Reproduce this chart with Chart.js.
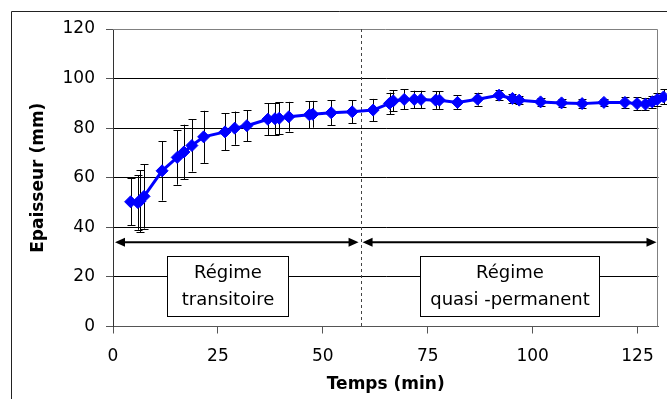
<!DOCTYPE html>
<html>
<head>
<meta charset="utf-8">
<script src="https://cdn.jsdelivr.net/npm/chart.js@4/dist/chart.umd.min.js"></script>
<style>
html,body{margin:0;padding:0;background:#fff;}
canvas{display:block;}
</style>
</head>
<body>
<canvas id="c" width="667" height="399"></canvas>
<script>
// ---- data ----
const times = [4.2, 5.9, 6.4, 7.4, 11.7, 15.3, 16.9, 18.8, 21.6, 26.7, 29.0, 31.9, 36.9, 38.6, 39.6, 41.9, 46.8, 47.6, 52.0, 57.0, 62.0, 65.9, 66.8, 69.4, 71.8, 73.4, 76.9, 77.8, 82.1, 86.9, 92.0, 95.2, 96.8, 101.9, 106.9, 111.8, 117.0, 122.0, 124.9, 126.9, 128.5, 129.7, 131.2];
const thickness = [50.3, 50.0, 50.5, 52.5, 62.8, 68.2, 70.4, 73.0, 76.5, 78.5, 80.0, 81.0, 83.6, 83.8, 84.0, 84.6, 85.4, 85.6, 86.2, 86.6, 87.3, 90.0, 91.0, 91.6, 91.6, 91.6, 91.3, 91.3, 90.4, 91.7, 93.3, 92.0, 91.3, 90.6, 90.2, 89.9, 90.4, 90.4, 89.9, 89.7, 90.6, 91.6, 92.6];
const errors = [9.4, 11.0, 12.5, 13.0, 12.0, 11.0, 11.0, 10.5, 10.5, 7.5, 6.7, 6.3, 6.4, 6.5, 6.5, 6.0, 5.4, 5.4, 5.0, 4.7, 4.5, 4.3, 4.2, 4.0, 3.5, 3.5, 3.5, 3.5, 2.8, 2.6, 2.0, 1.8, 1.5, 1.5, 1.5, 1.8, 1.5, 2.2, 2.5, 2.5, 2.5, 2.5, 3.0];
const xTicks = [0, 25, 50, 75, 100, 125];
const yTicks = [0, 20, 40, 60, 80, 100, 120];
const xTitle = 'Temps (min)';
const yTitle = 'Epaisseur (mm)';
const phaseBoundary = 59;        // dashed separator (min)
const arrowLevel = 34;           // arrows (mm)
const regimes = [
  {label: ['Régime', 'transitoire'], from: 0, to: 59, boxFrom: 12.8, boxTo: 41.7},
  {label: ['Régime', 'quasi -permanent'], from: 59, to: 130, boxFrom: 73.2, boxTo: 115.8}
];
const boxTop = 28.3, boxBottom = 4.4;

const FONT = '"DejaVu Sans", sans-serif';

const points = times.map((t, i) => ({x: t, y: thickness[i]}));

const decor = {
  id: 'decor',
  beforeDraw(chart) {
    const ctx = chart.ctx;
    ctx.save();
    ctx.fillStyle = '#fff';
    ctx.fillRect(0, 0, chart.width, chart.height);
    ctx.strokeStyle = '#222';
    ctx.lineWidth = 1;
    ctx.beginPath();
    ctx.moveTo(11.5, chart.height + 5);
    ctx.lineTo(11.5, 11.5);
    ctx.lineTo(chart.width + 5, 11.5);
    ctx.stroke();
    ctx.restore();
  },
  beforeDatasetsDraw(chart) {
    const {ctx, chartArea: a, scales: {x, y}} = chart;
    ctx.save();
    // plot area top/right border
    ctx.strokeStyle = '#808080';
    ctx.lineWidth = 1;
    ctx.beginPath();
    ctx.moveTo(a.left, Math.round(a.top) + 0.5);
    ctx.lineTo(Math.round(a.right) - 0.5, Math.round(a.top) + 0.5);
    ctx.lineTo(Math.round(a.right) - 0.5, a.bottom);
    ctx.stroke();
    // dashed separator
    const bx = Math.round(x.getPixelForValue(phaseBoundary)) + 0.5;
    ctx.strokeStyle = '#444';
    ctx.setLineDash([3, 3]);
    ctx.beginPath();
    ctx.moveTo(bx, a.top);
    ctx.lineTo(bx, a.bottom);
    ctx.stroke();
    ctx.setLineDash([]);
    // arrows and boxes
    const ay = y.getPixelForValue(arrowLevel);
    ctx.strokeStyle = '#000';
    regimes.forEach(r => {
      const x1 = x.getPixelForValue(r.from) + 2;
      const x2 = x.getPixelForValue(r.to) - 2;
      ctx.lineWidth = 2;
      ctx.beginPath();
      ctx.moveTo(x1 + 6, ay);
      ctx.lineTo(x2 - 6, ay);
      ctx.stroke();
      ctx.fillStyle = '#000';
      ctx.beginPath();
      ctx.moveTo(x1, ay); ctx.lineTo(x1 + 10, ay - 4.5); ctx.lineTo(x1 + 10, ay + 4.5); ctx.closePath();
      ctx.fill();
      ctx.beginPath();
      ctx.moveTo(x2, ay); ctx.lineTo(x2 - 10, ay - 4.5); ctx.lineTo(x2 - 10, ay + 4.5); ctx.closePath();
      ctx.fill();
      // box
      const l = Math.round(x.getPixelForValue(r.boxFrom)) + 0.5;
      const rr = Math.round(x.getPixelForValue(r.boxTo)) + 0.5;
      const t = Math.round(y.getPixelForValue(boxTop)) + 0.5;
      const b = Math.round(y.getPixelForValue(boxBottom)) + 0.5;
      ctx.fillStyle = '#fff';
      ctx.fillRect(l, t, rr - l, b - t);
      ctx.lineWidth = 1;
      ctx.strokeRect(l, t, rr - l, b - t);
      ctx.fillStyle = '#000';
      ctx.font = '18px ' + FONT;
      ctx.textAlign = 'center';
      ctx.textBaseline = 'middle';
      const cx = (l + rr) / 2, cy = (t + b) / 2;
      ctx.fillText(r.label[0], cx, cy - 13);
      ctx.fillText(r.label[1], cx, cy + 14);
    });
    // error bars
    ctx.strokeStyle = '#000';
    ctx.lineWidth = 1;
    times.forEach((t, i) => {
      const px = Math.round(x.getPixelForValue(t)) + 0.5;
      const top = y.getPixelForValue(thickness[i] + errors[i]);
      const bot = y.getPixelForValue(thickness[i] - errors[i]);
      ctx.beginPath();
      ctx.moveTo(px, top); ctx.lineTo(px, bot);
      ctx.moveTo(px - 4, Math.round(top) + 0.5); ctx.lineTo(px + 4, Math.round(top) + 0.5);
      ctx.moveTo(px - 4, Math.round(bot) + 0.5); ctx.lineTo(px + 4, Math.round(bot) + 0.5);
      ctx.stroke();
    });
    ctx.restore();
  }
};

new Chart(document.getElementById('c'), {
  type: 'scatter',
  data: {
    datasets: [{
      data: points,
      showLine: true,
      borderColor: '#0000FF',
      backgroundColor: '#0000FF',
      borderWidth: 3,
      pointStyle: 'rectRot',
      pointRadius: 6,
      pointBorderWidth: 1,
      pointHoverRadius: 6,
      clip: false
    }]
  },
  options: {
    responsive: false,
    animation: false,
    devicePixelRatio: 1,
    layout: {padding: {left: 0, top: 29, right: 7, bottom: 0}},
    plugins: {legend: {display: false}, tooltip: {enabled: false}},
    scales: {
      x: {
        type: 'linear', min: 0, max: 130,
        afterBuildTicks: s => { s.ticks = xTicks.map(v => ({value: v})); },
        afterFit: s => { s.height = 72.5; },
        grid: {drawOnChartArea: false, tickLength: 7, tickColor: '#555'},
        border: {color: '#555', width: 1},
        ticks: {color: '#000', font: {family: FONT, size: 17}, padding: 13, maxRotation: 0},
        title: {display: true, text: xTitle, color: '#000', font: {family: FONT, size: 17, weight: 'bold'}, padding: {top: 0, bottom: 4}}
      },
      y: {
        type: 'linear', min: 0, max: 120,
        afterBuildTicks: s => { s.ticks = yTicks.map(v => ({value: v})); },
        afterFit: s => { s.width = 113; },
        grid: {color: c => (c.tick && c.tick.value === 120) ? 'rgba(0,0,0,0)' : '#000', tickLength: 7, tickColor: '#555'},
        border: {color: '#333', width: 1},
        ticks: {color: '#000', font: {family: FONT, size: 17}, padding: 11},
        title: {display: true, text: yTitle, color: '#000', font: {family: FONT, size: 17, weight: 'bold'}, padding: {top: 28, bottom: 0}}
      }
    }
  },
  plugins: [decor]
});
</script>
</body>
</html>
